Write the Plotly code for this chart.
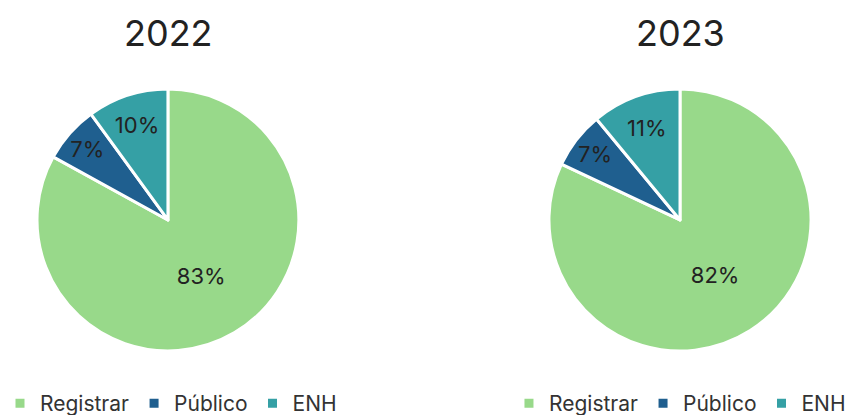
import plotly.graph_objects as go

categorias = ['Registrar', 'Público', 'ENH']
valores_2022 = [83, 7, 10]
valores_2023 = [82, 7, 11]
cores = ['#98d98a', '#1f5f8f', '#35a0a5']

fonte = 'Inter'

fig = go.Figure()

fig.add_trace(go.Pie(
    labels = categorias,
    values = valores_2022,
    sort = False,
    direction = 'clockwise',
    rotation = 0,
    marker = dict(colors = cores, line = dict(color = 'white', width = 3)),
    texttemplate = '%{value}%',
    textposition = 'inside',
    insidetextorientation = 'horizontal',
    textfont = dict(family = fonte, size = 22, color = '#222222'),
    domain = dict(x = [0.0436, 0.352], y = [0.154, 0.786]),
    legend = 'legend',
    legendgroup = '2022',
    hoverinfo = 'label+percent'
))

fig.add_trace(go.Pie(
    labels = categorias,
    values = valores_2023,
    sort = False,
    direction = 'clockwise',
    rotation = 0,
    marker = dict(colors = cores, line = dict(color = 'white', width = 3)),
    texttemplate = '%{value}%',
    textposition = 'inside',
    insidetextorientation = 'horizontal',
    textfont = dict(family = fonte, size = 22, color = '#222222'),
    domain = dict(x = [0.6466, 0.9553], y = [0.154, 0.786]),
    legend = 'legend2',
    legendgroup = '2023',  # grupo próprio, senão a segunda legenda fica vazia
    hoverinfo = 'label+percent'
))

legenda = dict(
    orientation = 'h',
    yanchor = 'bottom',
    y = -0.022,
    xanchor = 'left',
    font = dict(family = fonte, size = 21, color = '#333333'),
    itemwidth = 30,
    traceorder = 'normal',
    bgcolor = 'rgba(0,0,0,0)'
)

fig.update_layout(
    width = 849,
    height = 415,
    margin = dict(l = 0, r = 0, t = 0, b = 0, autoexpand = False),
    paper_bgcolor = 'white',
    showlegend = True,
    legend = dict(legenda, x = 0),
    legend2 = dict(legenda, x = 0.5995),
    annotations = [
        dict(text = '2022', x = 168 / 849, y = 1 - 33 / 415, xref = 'paper', yref = 'paper',
             xanchor = 'center', yanchor = 'middle', showarrow = False,
             font = dict(family = fonte, size = 36, color = '#222222')),
        dict(text = '2023', x = 680 / 849, y = 1 - 33 / 415, xref = 'paper', yref = 'paper',
             xanchor = 'center', yanchor = 'middle', showarrow = False,
             font = dict(family = fonte, size = 36, color = '#222222')),
    ]
)

# tira a margem padrão de 8px do body da página
fig.write_html(
    'out.html',
    config = {'displayModeBar': False},
    post_script = "document.body.style.margin = '0';"
)
